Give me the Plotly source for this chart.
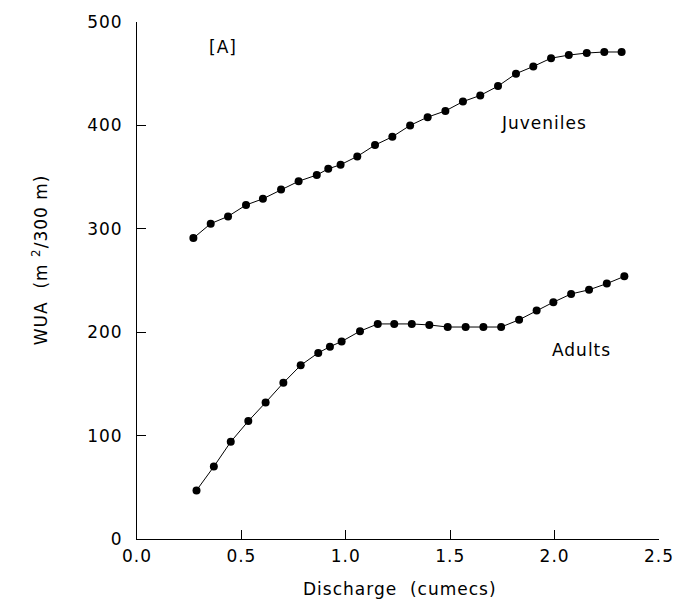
import plotly.graph_objects as go

# Juveniles
juv_x = [0.270, 0.353, 0.436, 0.522, 0.603, 0.690, 0.774, 0.861, 0.916, 0.975,
         1.055, 1.140, 1.223, 1.308, 1.392, 1.477, 1.561, 1.644, 1.729, 1.815,
         1.898, 1.983, 2.068, 2.154, 2.238, 2.321]
juv_y = [291, 305, 312, 323, 329, 338, 346, 352, 358, 362,
         370, 381, 389, 400, 408, 414, 423, 429, 438, 450,
         457, 465, 468, 470, 471, 471]

# Adults
adu_x = [0.285, 0.368, 0.449, 0.533, 0.616, 0.701, 0.784, 0.868, 0.924, 0.980,
         1.068, 1.153, 1.232, 1.316, 1.400, 1.488, 1.574, 1.659, 1.744, 1.830,
         1.914, 1.994, 2.079, 2.165, 2.250, 2.334]
adu_y = [47, 70, 94, 114, 132, 151, 168, 180, 186, 191,
         201, 208, 208, 208, 207, 205, 205, 205, 205, 212,
         221, 229, 237, 241, 247, 254]

x_ticks = [0.0, 0.5, 1.0, 1.5, 2.0, 2.5]
x_labels = ["0.0", "0.5", "1.0", "1.5", "2.0", "2.5"]
y_ticks = [0, 100, 200, 300, 400, 500]
y_labels = ["0", "100", "200", "300", "400", "500"]

FONT = "DejaVu Sans"
SP = '<span style="letter-spacing:1px">{}</span>'


def sp(t):
    return SP.format(t)


fig = go.Figure()
for xs, ys, name in [(juv_x, juv_y, "Juveniles"), (adu_x, adu_y, "Adults")]:
    fig.add_trace(go.Scatter(
        x=xs, y=ys, mode="lines+markers", name=name,
        line=dict(color="black", width=1),
        marker=dict(color="black", size=8),
        showlegend=False,
    ))

tfont = dict(family=FONT, size=17, color="black")
fig.add_annotation(x=0.412, y=476, text=sp("[A]"), showarrow=False, font=tfont)
fig.add_annotation(x=1.95, y=402, text=sp("Juveniles"), showarrow=False, font=tfont)
fig.add_annotation(x=2.131, y=183, text=sp("Adults"), showarrow=False, font=tfont)

# axis titles
fig.add_annotation(xref="paper", yref="paper", x=0.504, y=-0.0975,
                   xanchor="center", yanchor="middle",
                   text=sp("Discharge  (cumecs)"), showarrow=False, font=tfont)
fig.add_annotation(xref="paper", yref="paper", x=-0.186, y=0.541,
                   xanchor="center", yanchor="middle", textangle=-90,
                   text=sp("WUA  (m <sup>2</sup>/300 m)"), showarrow=False, font=tfont)

fig.update_layout(
    width=691, height=608,
    margin=dict(l=137, r=32, t=16, b=69),
    paper_bgcolor="white", plot_bgcolor="white",
    font=dict(family=FONT, color="black"),
    xaxis=dict(
        range=[0, 2.5], tickvals=x_ticks, ticktext=[sp(t) for t in x_labels],
        ticks="inside", ticklen=9, tickwidth=1, tickcolor="black",
        showline=True, linecolor="black", linewidth=1,
        showgrid=False, zeroline=False, ticklabelstandoff=2,
        tickfont=dict(family=FONT, size=17, color="black"),
    ),
    yaxis=dict(
        range=[0, 500], tickvals=y_ticks, ticktext=[sp(t) for t in y_labels],
        ticks="inside", ticklen=9, tickwidth=1, tickcolor="black",
        showline=True, linecolor="black", linewidth=1,
        showgrid=False, zeroline=False, ticklabelstandoff=10,
        tickfont=dict(family=FONT, size=17, color="black"),
    ),
)

fig.write_html("out.html")
